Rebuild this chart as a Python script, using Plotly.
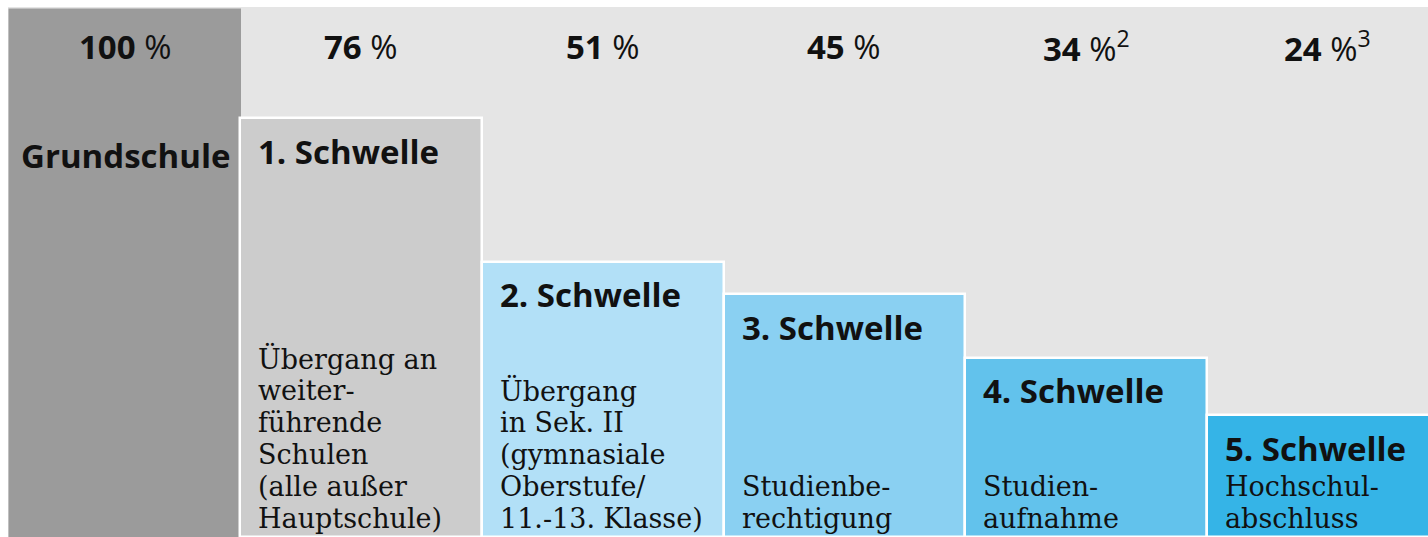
import plotly.graph_objects as go

# ---- Daten ----
stufen = ["Grundschule", "1. Schwelle", "2. Schwelle", "3. Schwelle", "4. Schwelle", "5. Schwelle"]
prozent = [100, 76, 51, 45, 34, 24]
fussnote = ["", "", "", "", "2", "3"]
# sichtbare Stufenhöhe (relativ zur Grundschule)
stufenhoehe = [100, 79.5, 52.2, 46.1, 34.0, 23.1]
beschreibung = [
    "",
    "Übergang an<br>weiter-<br>führende<br>Schulen<br>(alle außer<br>Hauptschule)",
    "Übergang<br>in Sek. II<br>(gymnasiale<br>Oberstufe/<br>11.-13. Klasse)",
    "Studienbe-<br>rechtigung",
    "Studien-<br>aufnahme",
    "Hochschul-<br>abschluss",
]

# ---- Stil / Layout ----
farben = ["#9b9b9b", "#cccccc", "#b2e0f7", "#8ad0f2", "#62c2ec", "#35b4e7"]
randfarben = ["#9b9b9b", "white", "white", "white", "white", "white"]
spaltenbreite = [0.95, 1, 1, 1, 1, 1]
W, H = 1428, 537
ML, MT = 8, 7
px_per_unit = 241.75
left_px = 240 - spaltenbreite[0] * px_per_unit  # pixel of first column's left edge

kanten = [0.0]
for b in spaltenbreite:
    kanten.append(kanten[-1] + b)
mitten = [(kanten[i] + kanten[i + 1]) / 2 for i in range(len(stufen))]

plot_w = W - ML
plot_h = H - MT
x0 = -(left_px - ML) / px_per_unit
x1 = x0 + plot_w / px_per_unit
ymax = 100 * plot_h / (H - 10)

fig = go.Figure()
fig.add_bar(
    x=mitten,
    y=stufenhoehe,
    width=spaltenbreite,
    marker=dict(color=farben, line=dict(color=randfarben, width=2.5)),
    hoverinfo="skip",
)

txt = "#111111"
sans = "Open Sans"
serif = "DejaVu Serif"
SANS_SIZE = 33
SERIF_SIZE = 27
ZEILE = 32          # line spacing of descriptions (px)
UNTEN = 19          # centre of last description line above bottom (px)


def ypaper(px):
    return (H - px) / plot_h


for i, name in enumerate(stufen):
    lab = f"<b>{prozent[i]}</b> %"
    if fussnote[i]:
        lab += f"<sup>{fussnote[i]}</sup>"
    fig.add_annotation(x=mitten[i], y=ypaper(47), yref="paper", text=lab,
                       showarrow=False, font=dict(family=sans, size=SANS_SIZE, color=txt),
                       xanchor="center", yanchor="middle")
    if i == 0:
        fig.add_annotation(x=mitten[i], y=ypaper(155), yref="paper", text=f"<b>{name}</b>",
                           showarrow=False, font=dict(family=sans, size=SANS_SIZE, color=txt),
                           xanchor="center", yanchor="middle")
        continue
    fig.add_annotation(x=kanten[i], y=stufenhoehe[i], text=f"<b>{name}</b>",
                       showarrow=False, font=dict(family=sans, size=SANS_SIZE, color=txt),
                       xanchor="left", yanchor="middle", xshift=16, yshift=-33)
    zeilen = beschreibung[i].split("<br>")
    n = len(zeilen)
    for k, z in enumerate(zeilen):
        fig.add_annotation(x=kanten[i], y=0, text=z, align="left",
                           showarrow=False, font=dict(family=serif, size=SERIF_SIZE, color=txt),
                           xanchor="left", yanchor="middle", xshift=16,
                           yshift=UNTEN + (n - 1 - k) * ZEILE)

fig.update_layout(
    width=W, height=H,
    margin=dict(l=ML, r=0, t=MT, b=0, autoexpand=False),
    paper_bgcolor="white",
    plot_bgcolor="#e5e5e5",
    bargap=0,
    showlegend=False,
    xaxis=dict(range=[x0, x1], visible=False, fixedrange=True),
    yaxis=dict(range=[0, ymax], visible=False, fixedrange=True),
)

fig.write_html(
    "out.html",
    config={"displayModeBar": False},
    post_script="document.body.style.margin='0';document.body.style.overflow='hidden';"
                "document.documentElement.style.overflow='hidden';",
)
